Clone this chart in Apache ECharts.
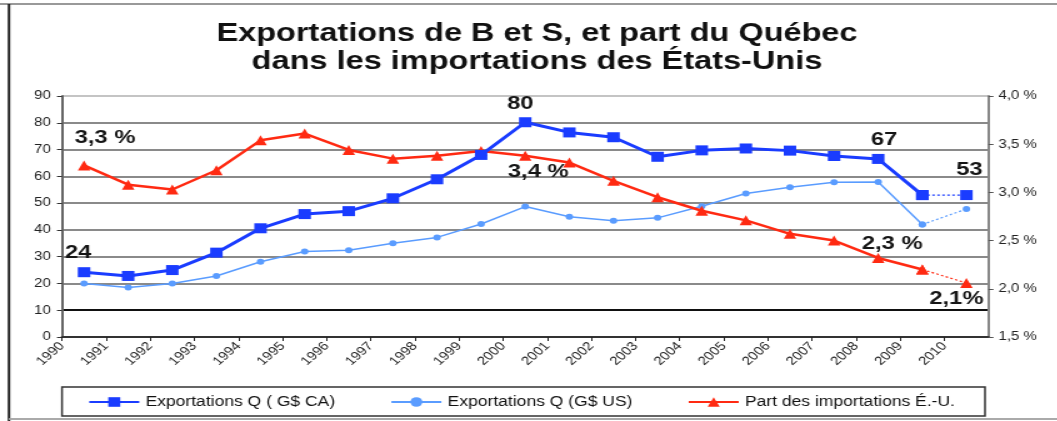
<!DOCTYPE html>
<html>
<head>
<meta charset="utf-8">
<script src="https://cdn.jsdelivr.net/npm/echarts@6/dist/echarts.min.js"></script>
<style>
  html, body { margin: 0; padding: 0; background: #fff; overflow: hidden; }
  /* the reference picture is stretched sideways, so the chart is drawn narrow and widened */
  #chart { width: 846px; height: 421px; transform: scaleX(1.25); transform-origin: 0 0; }
</style>
</head>
<body>
<div id="chart"></div>
<script>
const years = ['1990', '1991', '1992', '1993', '1994', '1995', '1996', '1997', '1998', '1999', '2000',
  '2001', '2002', '2003', '2004', '2005', '2006', '2007', '2008', '2009', '2010'];
// G$ CA
const exportCA = [24.2, 22.8, 25.0, 31.5, 40.6, 45.9, 47.0, 51.8, 58.9, 68.0, 80.2,
  76.4, 74.6, 67.3, 69.7, 70.4, 69.6, 67.6, 66.5, 53.0, 53.0];
// G$ US
const exportUS = [20.0, 18.5, 20.0, 22.8, 28.1, 31.9, 32.4, 35.0, 37.2, 42.2, 48.7,
  44.9, 43.4, 44.5, 48.8, 53.6, 55.9, 57.8, 57.9, 42.0, 47.8];
// part des importations des É.-U. (%)
const partUS = [3.28, 3.08, 3.03, 3.23, 3.54, 3.61, 3.44, 3.35, 3.38, 3.43, 3.38,
  3.31, 3.12, 2.95, 2.81, 2.71, 2.57, 2.50, 2.32, 2.20, 2.06];

const seriesNames = ['Exportations Q ( G$ CA)', 'Exportations Q (G$ US)', 'Part des importations É.-U.'];

// callouts written on the chart
const notes = [
  {key: 'ca', idx: 0, text: '24', dx: -6, dy: -19},
  {key: 'pct', idx: 0, text: '3,3 %', dx: 21, dy: -28},
  {key: 'ca', idx: 10, text: '80', dx: -5, dy: -18},
  {key: 'pct', idx: 10, text: '3,4 %', dx: 13, dy: 16},
  {key: 'ca', idx: 18, text: '67', dx: 6, dy: -19},
  {key: 'ca', idx: 20, text: '53', dx: 3, dy: -25},
  {key: 'pct', idx: 18, text: '2,3 %', dx: 14, dy: -14},
  {key: 'pct', idx: 20, text: '2,1%', dx: -10, dy: 16}
];

const S = 1.25;
const FONT = '"Liberation Sans", Arial, sans-serif';
const BLUE = '#1a3cff';
const LIGHT = '#5a9cff';
const RED = '#ff2a12';

function makeData(key, values, start, end) {
  const out = [];
  for (let i = start; i <= end; i++) {
    const item = {value: [i + 0.5, values[i]]};
    const note = notes.find(n => n.key === key && n.idx === i);
    if (note) {
      item.label = {
        show: true, position: 'inside', offset: [note.dx / S, note.dy], formatter: note.text,
        fontSize: 19, fontWeight: 'bold', color: '#151515', fontFamily: FONT
      };
    }
    out.push(item);
  }
  return out;
}

function lineSeries(name, key, values, yAxisIndex, color, symbol, symbolSize, width, z) {
  return [
    {
      name, type: 'line', yAxisIndex, z,
      data: makeData(key, values, 0, 19),
      symbol, symbolSize,
      lineStyle: {color, width},
      itemStyle: {color}
    },
    // last year is joined with a dotted line
    {
      name: name + ' (2010)', type: 'line', yAxisIndex, z,
      data: makeData(key, values, 19, 20),
      symbol, symbolSize,
      lineStyle: {color, width: 1.2, type: [2, 2]},
      itemStyle: {color}
    }
  ];
}

const chart = echarts.init(document.getElementById('chart'), null, {renderer: 'canvas'});

chart.setOption({
  animation: false,
  textStyle: {fontFamily: FONT},
  grid: {left: 62 / S, right: (1057 - 988) / S, top: 96, bottom: 84},
  graphic: [
    {type: 'text', x: 537 / S, y: 34, style: {text: 'Exportations de B et S, et part du Québec', font: 'bold 26px ' + FONT, fill: '#111', align: 'center', verticalAlign: 'middle'}},
    {type: 'text', x: 537 / S, y: 62, style: {text: 'dans les importations des États-Unis', font: 'bold 26px ' + FONT, fill: '#111', align: 'center', verticalAlign: 'middle'}},
    {type: 'line', shape: {x1: 0, y1: 4, x2: 846, y2: 4}, style: {stroke: '#999', lineWidth: 2}},
    {type: 'line', shape: {x1: 9 / S, y1: 4, x2: 9 / S, y2: 421}, style: {stroke: '#222', lineWidth: 2}},
    {type: 'line', shape: {x1: 9 / S, y1: 419, x2: 846, y2: 419}, style: {stroke: '#aaa', lineWidth: 2}},
    {type: 'rect', shape: {x: 62 / S, y: 387, width: (985 - 62) / S, height: 29}, style: {fill: 'none', stroke: '#333', lineWidth: 1.5}}
  ],
  legend: {
    data: seriesNames,
    left: 88 / S,
    top: 395,
    padding: 0,
    itemWidth: 40,
    itemHeight: 12,
    itemGap: 44,
    textStyle: {fontSize: 14, color: '#111', fontFamily: FONT}
  },
  xAxis: {
    type: 'value',
    min: 0,
    max: 21,
    interval: 1,
    axisLine: {lineStyle: {color: '#333', width: 2}},
    axisTick: {length: 4, lineStyle: {color: '#222'}},
    splitLine: {show: false},
    axisLabel: {
      rotate: 47,
      margin: 7,
      fontSize: 12,
      color: '#222',
      showMaxLabel: false,
      formatter: v => years[v] || ''
    }
  },
  yAxis: [
    {
      type: 'value',
      min: 0,
      max: 90,
      interval: 10,
      axisLine: {show: true, lineStyle: {color: '#666', width: 2}},
      axisTick: {show: true, length: 4, lineStyle: {color: '#333'}},
      axisLabel: {fontSize: 12, color: '#222', margin: 9},
      splitLine: {
        lineStyle: {
          width: 2,
          color: ['#222', '#111', '#8a8a8a', '#8a8a8a', '#8a8a8a', '#8a8a8a', '#8a8a8a', '#8a8a8a', '#8a8a8a', '#c4c4c4']
        }
      }
    },
    {
      type: 'value',
      min: 1.5,
      max: 4.0,
      interval: 0.5,
      position: 'right',
      axisLine: {show: true, lineStyle: {color: '#888', width: 2}},
      axisTick: {show: true, length: 4, lineStyle: {color: '#555'}},
      axisLabel: {
        fontSize: 12, color: '#222', margin: 8,
        formatter: v => v.toFixed(1).replace('.', ',') + ' %'
      },
      splitLine: {show: false}
    }
  ],
  series: [
    ...lineSeries(seriesNames[1], 'us', exportUS, 0, LIGHT, 'circle', 6, 1.5, 2),
    ...lineSeries(seriesNames[2], 'pct', partUS, 1, RED, 'triangle', 10, 2.5, 3),
    ...lineSeries(seriesNames[0], 'ca', exportCA, 0, BLUE, 'rect', 10, 3, 4)
  ]
});
</script>
</body>
</html>
